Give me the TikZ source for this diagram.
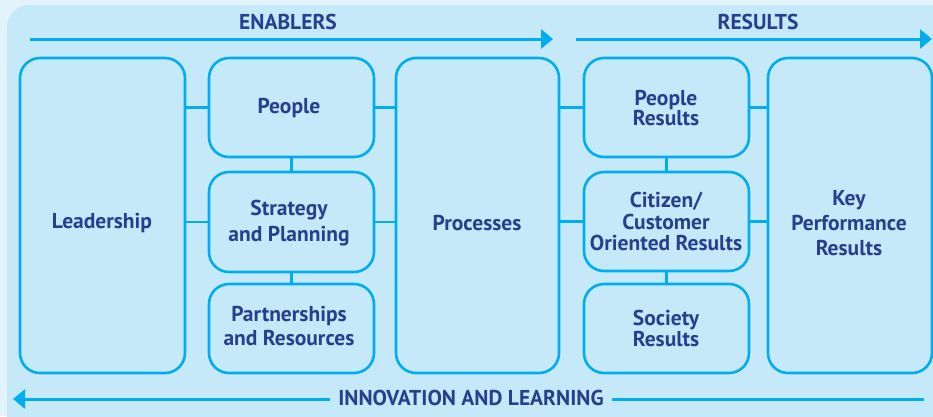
\documentclass[tikz,border=0pt]{standalone}
\usepackage{fontspec}
\setmainfont{PT Sans}
\usetikzlibrary{arrows.meta,calc}
\definecolor{tblue}{HTML}{25408F}
\definecolor{lcyan}{HTML}{00AEEF}
\definecolor{panel}{HTML}{C5E9F9}
\definecolor{outer}{HTML}{E2F3FC}
\begin{document}
\begin{tikzpicture}[x=1pt,y=-1pt,
  box/.style={draw=lcyan,line width=2.6pt,rounded corners=20pt,fill=panel,inner sep=0pt},
  lbl/.style={text=tblue,font=\bfseries\fontsize{21.5}{22}\selectfont,align=center,inner sep=0pt},
  link/.style={draw=lcyan,line width=2.6pt},
  flow/.style={draw=lcyan,line width=3pt,-{Triangle[length=12pt,width=19pt]}},
  head/.style={text=tblue,font=\bfseries\fontsize{21.5}{22}\selectfont,inner sep=1pt}]
\useasboundingbox (0,0) rectangle (933,416);
\fill[outer] (0,0) rectangle (933,416);
\fill[panel,rounded corners=22pt] (7,5) rectangle (960,440);
% boxes
\node[box,minimum width=165pt,minimum height=315pt] (lead) at (102.5,215.5) {};
\node[box,minimum width=165pt,minimum height=99pt] (peop) at (291.5,107.5) {};
\node[box,minimum width=165pt,minimum height=100pt] (strat) at (291.5,222) {};
\node[box,minimum width=165pt,minimum height=89pt] (part) at (291.5,328.5) {};
\node[box,minimum width=163pt,minimum height=315pt] (proc) at (477.5,215.5) {};
\node[box,minimum width=165pt,minimum height=99pt] (pres) at (666.5,107.5) {};
\node[box,minimum width=165pt,minimum height=99pt] (cit) at (666.5,221.5) {};
\node[box,minimum width=165pt,minimum height=89pt] (soc) at (666.5,328.5) {};
\node[box,minimum width=164pt,minimum height=315pt] (kpr) at (850,215.5) {};
% labels
\node[lbl] (leadT) at (102,223) {Leadership};
\node[lbl] (peopT) at (289,108) {People};
\node[lbl] (stratT) at (289,223) {Strategy\\[4pt]and Planning};
\node[lbl] (partT) at (289,326) {Partnerships\\[2pt]and Resources};
\node[lbl] (procT) at (477,223) {Processes};
\node[lbl] (presT) at (666,108) {People\\[-1.5pt]Results};
\node[lbl] (citT) at (666,221.5) {Citizen/\\[-0.5pt]Customer\\[-0.5pt]Oriented Results};
\node[lbl] (socT) at (666,328.5) {Society\\[-1pt]Results};
\node[lbl] (kprT) at (849,223) {Key\\[3pt]Performance\\[3pt]Results};
% connectors
\draw[link] (peop.west -| lead.east) -- (peop.west);
\draw[link] (strat.west -| lead.east) -- (strat.west);
\draw[link] ($(part.west)+(0,3.5)$ -| lead.east) -- ($(part.west)+(0,3.5)$);
\draw[link] (peop.east) -- (peop.east -| proc.west);
\draw[link] (strat.east) -- (strat.east -| proc.west);
\draw[link] ($(part.east)+(0,3.5)$) -- ($(part.east)+(0,3.5)$ -| proc.west);
\draw[link] (peop.south) -- (strat.north);
\draw[link] (strat.south) -- (part.north);
\draw[link] (pres.west -| proc.east) -- (pres.west);
\draw[link] (cit.west -| proc.east) -- (cit.west);
\draw[link] ($(soc.west)+(0,3.5)$ -| proc.east) -- ($(soc.west)+(0,3.5)$);
\draw[link] (pres.east) -- (pres.east -| kpr.west);
\draw[link] (cit.east) -- (cit.east -| kpr.west);
\draw[link] ($(soc.east)+(0,3.5)$) -- ($(soc.east)+(0,3.5)$ -| kpr.west);
\draw[link] (pres.south) -- (cit.north);
\draw[link] (cit.south) -- (soc.north);
% top flows
\coordinate (e1) at (30,39);
\coordinate (e2) at (553,39);
\coordinate (r1) at (576,39);
\coordinate (r2) at (932,39);
\draw[flow] (e1) -- (e2);
\draw[flow] (r1) -- (r2);
\node[head] (enab) at (288,22) {ENABLERS};
\node[head] (res) at (758,22) {RESULTS};
% bottom flow
\coordinate (i1) at (924,399);
\coordinate (i2) at (13,399);
\draw[flow] (i1) -- (i2);
\node[head,fill=panel,inner xsep=8pt,inner ysep=3pt] (innov) at (471,398) {INNOVATION AND LEARNING};
\end{tikzpicture}
\end{document}
